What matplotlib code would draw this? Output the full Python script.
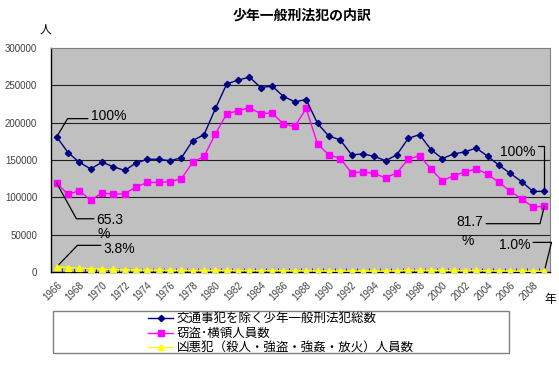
import matplotlib
matplotlib.use("Agg")
import matplotlib.pyplot as plt
from matplotlib.lines import Line2D
from matplotlib.patches import Rectangle

years = list(range(1966, 2010))
total = [181000, 160000, 147000, 138000, 147000, 141000, 136000, 146000, 151000, 151000, 149000, 153000,
         176000, 184000, 219000, 252000, 257000, 261000, 247000, 249000,
         235000, 228000, 231000, 199000, 182000, 177000,
         157000, 158000, 155000, 149000, 157000, 179000, 184000, 164000, 152000, 158000, 161000, 166000,
         155000, 143000, 132000, 121000, 108000, 108000]
theft = [119000, 104000, 109000, 96000, 106000, 104000, 105000, 114000, 120000, 120000, 121000, 125000,
         147000, 155000, 185000, 212000, 216000, 220000, 212000, 213000,
         198000, 195000, 219000, 171500, 157000, 152000,
         133000, 134000, 132000, 126000, 133000, 151000, 156000, 138000, 122000, 129000, 134000, 138000,
         131000, 120000, 108000, 98000, 87000, 88000]
violent = [6900, 5900, 5200, 4500, 4000, 3400, 3000, 2700, 2500, 2400, 2200, 2100,
           2000, 2100, 2100, 2100, 2000, 2000, 1900, 1900,
           1800, 1700, 1600, 1400, 1300, 1200,
           1200, 1300, 1200, 1300, 1500, 2300, 2200, 2200, 2100, 2100, 1900, 2200,
           1600, 1400, 1200, 1100, 1000, 1100]
labels = ["交通事犯を除く少年一般刑法犯総数", "窃盗･横領人員数", "凶悪犯（殺人・強盗・強姦・放火）人員数"]
yticks = [0, 50000, 100000, 150000, 200000, 250000, 300000]
xlabels = list(range(1966, 2009, 2))
title = "少年一般刑法犯の内訳"

cjk = ["Noto Sans CJK JP", "DejaVu Sans"]
num = ["Liberation Sans", "DejaVu Sans"]

W, H = 559, 366
fig = plt.figure(figsize=(W / 100, H / 100), dpi=100)
ax = fig.add_axes([51 / W, 1 - 272 / H, 499 / W, 224 / H])
ax.set_facecolor("#C0C0C0")

ax.set_xlim(1965.5, 2009.5)
ax.set_ylim(0, 300000)
ax.set_yticks(yticks)
ax.set_yticklabels([str(v) for v in yticks], fontsize=7, family=num, color="#404040")
for v in yticks[1:-1]:
    ax.axhline(v, color="#202020", lw=0.8, zorder=1)
ax.set_xticks(xlabels)
ax.set_xticklabels([str(v) for v in xlabels], rotation=45, ha="right", rotation_mode="anchor",
                   fontsize=7, family=num, color="#404040")
ax.set_xticks([y - 0.5 for y in years] + [years[-1] + 0.5], minor=True)
ax.tick_params(axis="x", which="major", length=0, pad=6)
ax.tick_params(axis="x", which="minor", length=3, direction="in", color="#202020")
ax.tick_params(axis="y", length=0, pad=10)
for s in ["top", "right"]:
    ax.spines[s].set_color("#808080")
for s in ["left", "bottom"]:
    ax.spines[s].set_color("#000000")
    ax.spines[s].set_linewidth(1.0)

l1, = ax.plot(years, total, color="#000080", lw=1.0, marker="D", ms=3.2, zorder=4)
l2, = ax.plot(years, theft, color="#FF00FF", lw=1.0, marker="s", ms=4.5, zorder=3)
l3, = ax.plot(years, violent, color="#FFFF00", lw=1.0, marker="^", ms=4.5, zorder=5)

akw = dict(textcoords="offset pixels", fontsize=10, family=num, color="black", va="center")


def lead(text, x, y, dx, dy, ha, rel, angB):
    ax.annotate(text, xy=(x, y), xytext=(dx, dy), ha=ha, **akw,
                arrowprops=dict(arrowstyle="-", color="black", lw=0.9, shrinkA=0, shrinkB=0,
                                relpos=rel,
                                connectionstyle=f"angle,angleA=0,angleB={angB},rad=0"))


lead("100%", years[0], total[0], 34, 21, "left", (0, 0.3), 59)
lead("65.3", years[0], theft[0], 40, -37, "left", (0, 0.6), -61)
ax.annotate("%", xy=(years[0], theft[0]), xytext=(41, -51), ha="left", **akw)
lead("3.8%", years[0], violent[0], 47, 18, "left", (0, 0.75), 46)
lead("100%", years[-1], total[-1], -9, 39, "right", (1, 0.95), 90)
lead("81.7", years[-1], theft[-1], -61, -16, "right", (1, 0.4), 76)
ax.annotate("%", xy=(years[-1], theft[-1]), xytext=(-83, -35), ha="left", **akw)
lead("1.0%", years[-1], violent[-1], -14, 26, "right", (1, 0.7), 76)

fig.text(302 / W, 1 - 16 / H, title, ha="center", va="center", fontsize=10, weight="bold", family=cjk)
fig.text(45 / W, 1 - 29 / H, "人", ha="center", va="center", fontsize=8.5, family=cjk)
fig.text(550 / W, 1 - 300 / H, "年", ha="center", va="center", fontsize=8.5, family=cjk)

fig.patches.append(Rectangle((53 / W, 1 - 353 / H), 456 / W, 42 / H, transform=fig.transFigure,
                             facecolor="white", edgecolor="#808080", lw=1.0, zorder=0))
leg = fig.legend([l1, l2, l3], labels, loc="upper left", bbox_to_anchor=(148 / W, 1 - 312 / H),
                 frameon=False, prop={"family": cjk, "size": 9}, handlelength=2.0,
                 handletextpad=0.3, borderpad=0, borderaxespad=0, labelspacing=0.15)

fig.savefig("out.png", dpi=100)
